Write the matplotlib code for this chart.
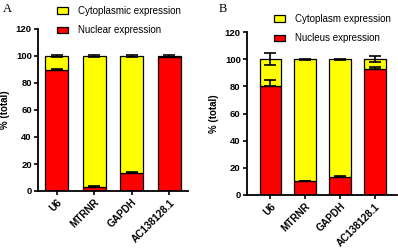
import matplotlib
matplotlib.use("Agg")
import matplotlib.pyplot as plt
from matplotlib.patches import Patch

categories = ["U6", "MTRNR", "GAPDH", "AC138128.1"]

# Panel A
a_nuclear = [89.5, 3.0, 13.0, 99.0]
a_nuclear_err = [1.2, 0.8, 1.2, 0.5]
a_cyto = [10.5, 97.0, 87.0, 1.0]
a_total_err = [0.8, 0.5, 0.9, 0.5]

# Panel B
b_nuclear = [80.5, 10.0, 13.5, 93.0]
b_nuclear_err = [4.5, 0.6, 0.6, 1.5]
b_cyto = [19.5, 90.0, 86.5, 7.0]
b_total_err = [4.2, 0.4, 0.4, 2.2]

yticks = [0, 20, 40, 60, 80, 100, 120]

W, H = 398, 252
fig = plt.figure(figsize=(W / 100, H / 100), dpi=100)
fig.patch.set_facecolor("white")

RED = "#FF0000"
YEL = "#FFFF00"
FONT = ["Liberation Sans", "DejaVu Sans"]


def add_ax(x0, x1, ytop, ybot):
    return fig.add_axes([x0 / W, 1 - ybot / H, (x1 - x0) / W, (ybot - ytop) / H])


def draw(ax, nuc, nuc_err, cyto, tot_err, xlim, cyto_label, nuc_label, leg_anchor):
    x = list(range(len(categories)))
    w = 0.62
    ax.bar(x, nuc, width=w, color=RED, edgecolor="black", linewidth=0.9, zorder=2)
    ax.bar(x, cyto, width=w, bottom=nuc, color=YEL, edgecolor="black", linewidth=0.9, zorder=2)
    ax.errorbar(x, nuc, yerr=[[0] * len(nuc), nuc_err], fmt="none", ecolor="black",
                elinewidth=1.2, capsize=4.5, capthick=1.2, zorder=3)
    tops = [n + c for n, c in zip(nuc, cyto)]
    ax.errorbar(x, tops, yerr=tot_err, fmt="none", ecolor="black",
                elinewidth=1.2, capsize=4.5, capthick=1.2, zorder=3)
    ax.set_xlim(*xlim)
    ax.set_ylim(0, 120)
    ax.set_yticks(yticks)
    ax.set_yticklabels([str(t) for t in yticks], fontfamily=FONT, fontweight="bold", fontsize=6.8)
    ax.set_xticks(x)
    ax.set_xticklabels(categories, rotation=45, ha="right", rotation_mode="anchor",
                       fontfamily=FONT, fontweight="bold", fontsize=7.2)
    for s in ["top", "right"]:
        ax.spines[s].set_visible(False)
    for s in ["left", "bottom"]:
        ax.spines[s].set_linewidth(1.3)
    ax.tick_params(axis="both", direction="out", length=3, width=1.2, pad=1.5)
    ax.set_ylabel("% (total)", fontfamily=FONT, fontweight="bold", fontsize=7, labelpad=4)
    handles = [Patch(facecolor=YEL, edgecolor="black", linewidth=0.9, label=cyto_label),
               Patch(facecolor=RED, edgecolor="black", linewidth=0.9, label=nuc_label)]
    fig.legend(handles=handles, loc="upper left", bbox_to_anchor=leg_anchor,
               bbox_transform=fig.transFigure, frameon=False,
               prop={"family": FONT, "size": 7},
               handlelength=1.15, handleheight=0.6, handletextpad=1.0,
               labelspacing=0.95, borderpad=0, borderaxespad=0)


axA = add_ax(38, 188, 29, 191)
draw(axA, a_nuclear, a_nuclear_err, a_cyto, a_total_err, (-0.5, 3.5),
     "Cytoplasmic expression", "Nuclear expression", (57 / W, 1 - 6 / H))

axB = add_ax(247, 397, 32, 195)
draw(axB, b_nuclear, b_nuclear_err, b_cyto, b_total_err, (-0.67, 3.63),
     "Cytoplasm expression", "Nucleus expression", (274 / W, 1 - 14 / H))

fig.text(3 / W, 1 - 9 / H, "A", fontfamily=["Liberation Serif", "DejaVu Serif"],
         fontsize=9, va="center", ha="left")
fig.text(219 / W, 1 - 9 / H, "B", fontfamily=["Liberation Serif", "DejaVu Serif"],
         fontsize=9, va="center", ha="left")

fig.savefig("out.png", dpi=100, facecolor="white")
